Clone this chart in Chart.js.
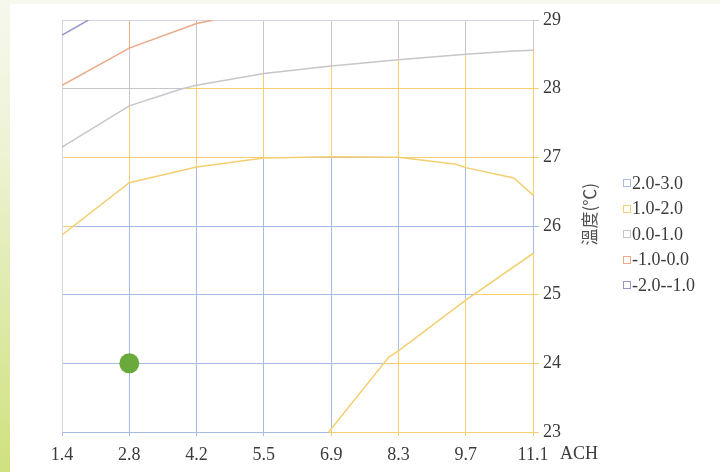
<!DOCTYPE html>
<html>
<head>
<meta charset="utf-8">
<script src="https://cdn.jsdelivr.net/npm/chart.js@4/dist/chart.umd.min.js"></script>
<style>
html,body{margin:0;padding:0;width:720px;height:472px;overflow:hidden;background:#fff}
#wrap{position:relative;width:720px;height:472px;background:#fff}
#topband{position:absolute;left:0;top:0;width:720px;height:4px;background:#f7f8ee}
#side{position:absolute;left:0;top:0;width:10px;height:472px;background:linear-gradient(#f6f8ee 0%,#eef3d6 30%,#e0ebb0 60%,#d0e17f 100%)}
canvas{position:absolute;left:0;top:0}
</style>
</head>
<body>
<div id="wrap">
  <div id="topband"></div>
  <div id="side"></div>
  <canvas id="c" width="720" height="472"></canvas>
</div>
<script>
// ---------- data ----------
const categories = ['1.4','2.8','4.2','5.5','6.9','8.3','9.7','11.1'];   // ACH
const tempTicks = [23, 24, 25, 26, 27, 28, 29];                           // °C
const bandLabels = ['2.0-3.0', '1.0-2.0', '0.0-1.0', '-1.0-0.0', '-2.0--1.0'];

// contour boundaries, points as [ACH, °C]
const contour1Upper = [[1.4,25.87],[2.8,26.63],[4.2,26.86],[5.5,26.99],[6.9,27.01],[8.3,27.0],[9.5,26.9],[9.7,26.85],[10.7,26.7],[11.1,26.45]];
const contour1Lower = [[6.85,23.0],[8.1,24.09],[8.3,24.18],[9.7,24.92],[11.1,25.6]];
const contour0 = [[1.4,27.15],[2.8,27.75],[3.9,28.0],[4.2,28.05],[5.5,28.22],[6.9,28.33],[8.3,28.42],[9.7,28.5],[10.7,28.55],[11.1,28.56]];
const contourM1 = [[1.4,28.05],[2.8,28.59],[4.2,28.95],[4.53,29.0]];
const contourM2 = [[1.4,28.78],[1.95,29.0]];
const markerPoint = [[2.8, 24]];

// ---------- styles ----------
const bandColors = ['#a6bce2', '#f3cf72', '#c6c6cb', '#eaa987', '#9696cc'];
const edgeColor = '#d5d7e0';
const textColor = '#3b3b3b';
const serif = '"Liberation Serif", "DejaVu Serif", serif';

// ACH value -> position on the equally spaced category axis
const achValues = categories.map(Number);
function achToIndex(a) {
  for (let i = 0; i < achValues.length - 1; i++) {
    if (a <= achValues[i + 1]) return i + (a - achValues[i]) / (achValues[i + 1] - achValues[i]);
  }
  return achValues.length - 1;
}
const toXY = arr => arr.map(p => ({x: achToIndex(p[0]), y: p[1]}));

function lineDs(arr, color) {
  return {type: 'line', data: toXY(arr), borderColor: color, borderWidth: 1.5,
          pointRadius: 0, tension: 0, fill: false};
}

// regions (band index, boundary, side) used to colour the wireframe grid
const regions = [
  {band: 1, line: contour1Lower, side: 'below'},
  {band: 1, line: contour1Upper, side: 'above'},
  {band: 2, line: contour0, side: 'above'},
  {band: 3, line: contourM1, side: 'above'},
  {band: 4, line: contourM2, side: 'above'}
];

function alignPx(p) { return Math.round(p - 0.5) + 0.5; }

const gridPlugin = {
  id: 'bandGrid',
  beforeDatasetsDraw(chart) {
    const {ctx, chartArea: ca, scales: {x: xs, y: ys}} = chart;
    const M = 14, L = ca.left - M, R = ca.right + M, T = ca.top - M, B = ca.bottom + M;
    const lastAch = achValues[achValues.length - 1];
    regions.forEach(reg => {
      const pts = reg.line.map(p => [xs.getPixelForValue(achToIndex(p[0])), ys.getPixelForValue(p[1])]);
      const last = reg.line[reg.line.length - 1];
      const poly = pts.slice();
      if (reg.side === 'above') {
        if (last[0] >= lastAch) { poly.push([R, pts[pts.length - 1][1]]); poly.push([R, T]); }
        else { poly.push([pts[pts.length - 1][0], T]); }
        poly.push([L, T]); poly.push([L, pts[0][1]]);
      } else {
        poly.push([R, pts[pts.length - 1][1]]); poly.push([R, B]); poly.push([pts[0][0], B]);
      }
      ctx.save();
      ctx.beginPath();
      poly.forEach((p, i) => i ? ctx.lineTo(p[0], p[1]) : ctx.moveTo(p[0], p[1]));
      ctx.closePath();
      ctx.clip();
      ctx.strokeStyle = bandColors[reg.band];
      ctx.lineWidth = 1;
      ctx.beginPath();
      categories.forEach((c, i) => {
        const x = alignPx(xs.getPixelForValue(i));
        ctx.moveTo(x, ca.top); ctx.lineTo(x, ca.bottom + 4);
      });
      tempTicks.forEach(t => {
        const y = alignPx(ys.getPixelForValue(t));
        ctx.moveTo(ca.left, y); ctx.lineTo(ca.right + 6, y);
      });
      ctx.stroke();
      ctx.restore();
    });
    // neutral plot-area edges on the left and top
    ctx.save();
    ctx.strokeStyle = edgeColor;
    ctx.lineWidth = 1;
    ctx.beginPath();
    const xl = alignPx(xs.getPixelForValue(0)), yt = alignPx(ys.getPixelForValue(tempTicks[tempTicks.length - 1]));
    ctx.moveTo(xl, ca.bottom); ctx.lineTo(xl, yt); ctx.lineTo(alignPx(ca.right), yt);
    ctx.stroke();
    ctx.restore();
  },
  afterDraw(chart) {
    const {ctx, chartArea: ca, scales: {y: ys}} = chart;
    ctx.save();
    ctx.fillStyle = textColor;
    ctx.font = '18px ' + serif;
    ctx.textAlign = 'left';
    ctx.textBaseline = 'middle';
    ctx.fillText('ACH', ca.right + 27, ca.bottom + 22);
    // y axis title, reading bottom to top
    ctx.save();
    ctx.translate(ca.right + 57, ys.getPixelForValue(26.17));
    ctx.rotate(-Math.PI / 2);
    ctx.textAlign = 'center';
    ctx.fillStyle = '#505050';
    ctx.font = '17px "Noto Sans CJK TC", "Noto Sans CJK SC", sans-serif';
    ctx.fillText('溫度(℃)', 0, 0);
    ctx.restore();
    // legend
    ctx.font = '18px ' + serif;
    ctx.textBaseline = 'middle';
    bandLabels.forEach((lab, i) => {
      const y = 183 + i * 25.5;
      ctx.strokeStyle = bandColors[i];
      ctx.lineWidth = 1;
      ctx.strokeRect(Math.round(ca.right + 90) + 0.5, Math.round(y - 4) + 0.5, 7, 7);
      ctx.fillStyle = textColor;
      ctx.fillText(lab, ca.right + 99, y + 1);
    });
    ctx.restore();
  }
};

new Chart(document.getElementById('c'), {
  type: 'line',
  data: {
    datasets: [
      lineDs(contour1Upper, bandColors[1]),
      lineDs(contour1Lower, bandColors[1]),
      lineDs(contour0, bandColors[2]),
      lineDs(contourM1, bandColors[3]),
      lineDs(contourM2, bandColors[4]),
      {type: 'scatter', data: toXY(markerPoint), pointRadius: 10, pointHoverRadius: 10,
       backgroundColor: '#6aaa3c', borderColor: '#6aaa3c', borderWidth: 0}
    ]
  },
  options: {
    responsive: false,
    animation: false,
    devicePixelRatio: 1,
    events: [],
    layout: {padding: {left: 62, top: 20, right: 0, bottom: 0}},
    plugins: {legend: {display: false}, tooltip: {enabled: false}},
    scales: {
      x: {
        type: 'linear', position: 'bottom', min: 0, max: categories.length - 1,
        afterFit(s) { s.height = 40; },
        border: {display: false},
        grid: {color: bandColors[0], lineWidth: 1, drawTicks: true, tickLength: 4},
        ticks: {stepSize: 1, autoSkip: false, maxRotation: 0, padding: 8,
                color: textColor, font: {family: serif, size: 18},
                callback: v => categories[v]}
      },
      y: {
        type: 'linear', position: 'right', min: tempTicks[0], max: tempTicks[tempTicks.length - 1],
        afterFit(s) { s.width = 187; },
        border: {display: false},
        grid: {color: bandColors[0], lineWidth: 1, drawTicks: true, tickLength: 6},
        ticks: {stepSize: 1, padding: 4, color: textColor, font: {family: serif, size: 18}}
      }
    }
  },
  plugins: [gridPlugin]
});
</script>
</body>
</html>
